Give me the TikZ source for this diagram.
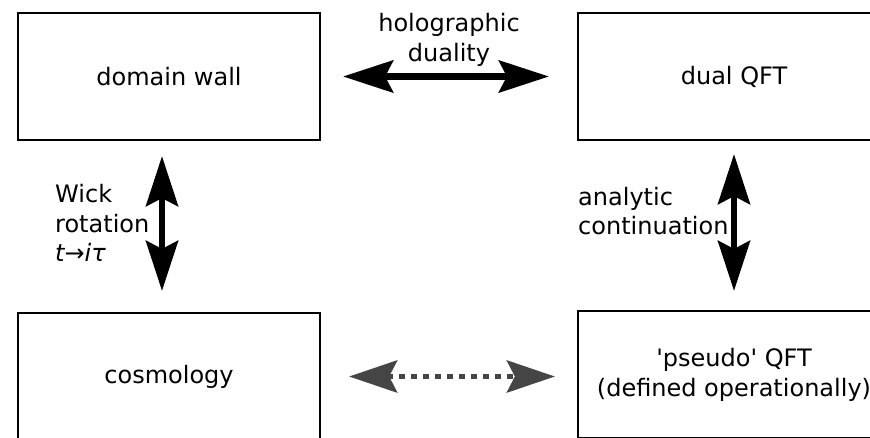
\documentclass[tikz,border=0pt]{standalone}
\usepackage{fontspec}
\setmainfont{DejaVu Sans}[Ligatures=TeXOff]
\usetikzlibrary{arrows.meta}
\definecolor{arrgray}{HTML}{454545}
\begin{document}
\begin{tikzpicture}[x=1pt,y=-1pt,
  box/.style={draw=black, line width=2.2pt, minimum width=302pt, minimum height=127pt, inner sep=0pt, font=\fontsize{24}{30}\selectfont, align=center},
  lbl/.style={font=\fontsize{24}{29.5}\selectfont, inner sep=0pt},
  dbl/.style={line width=6.5pt, >={Stealth[length=50pt,width=32pt,inset=8pt]}, <->},
  dotdbl/.style={draw=arrgray, line width=5.5pt, dash pattern=on 5.5pt off 6.5pt, >={Stealth[length=48pt,width=32pt,inset=8pt]}, <->}]
\useasboundingbox (0,0) rectangle (870,437);
\begin{scope}
\clip (0,0) rectangle (870,437);
\node[box] (dw) at (169,76.5) {domain wall};
\node[box, minimum width=312pt] (dq) at (734,76.5) {dual QFT};
\node[box] (cos) at (169,376.5) {cosmology};
\node[box, minimum width=312pt] (pq) at (734,374.5) {'pseudo' QFT\\(defined operationally)};
\end{scope}
\node[lbl, align=center] (holo) at (449,40) {holographic\\duality};
\node[lbl, align=left, anchor=west] (wick) at (55,223) {Wick\\rotation\\\itshape t→iτ};
\node[lbl, align=left, anchor=west] (anal) at (578,211) {analytic\\continuation};
\draw[dbl, shorten <=22pt, shorten >=28pt] (dw.east) -- (dq.west);
\draw[dbl, shorten <=15pt, shorten >=21pt] ([xshift=-7pt]dw.south) -- ([xshift=-7pt]cos.north);
\draw[dbl, shorten <=13pt, shorten >=19pt] (dq.south) -- (dq.south |- pq.north);
\draw[dotdbl, shorten <=28pt, shorten >=22pt] (cos.east) -- (cos.east -| pq.west);
\end{tikzpicture}
\end{document}
